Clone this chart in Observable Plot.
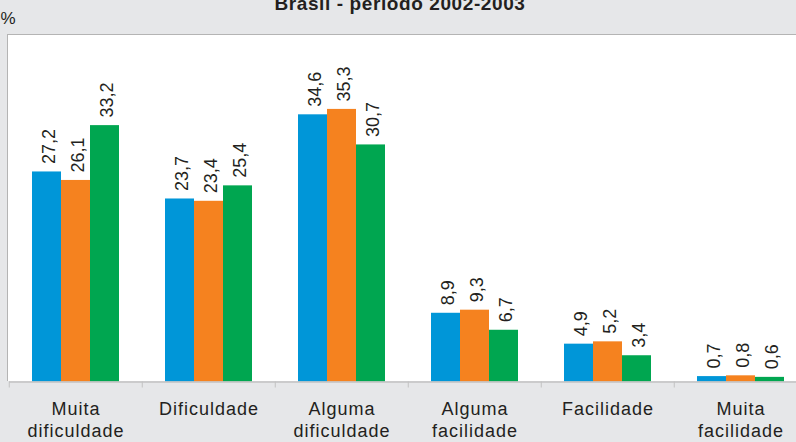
<!DOCTYPE html>
<html>
<head>
<meta charset="utf-8">
<script src="https://cdn.jsdelivr.net/npm/d3@7"></script>
<script src="https://cdn.jsdelivr.net/npm/@observablehq/plot@0.6"></script>
<style>
  html, body { margin: 0; padding: 0; background: #e6e7e9; overflow: hidden; }
  #wrap { position: relative; width: 796px; height: 442px; }
  #panel { position: absolute; left: 7px; top: 34px; width: 800px; height: 347px;
           background: #ffffff; border-top: 1px solid #b4b4b4; border-left: 1px solid #b4b4b4; box-sizing: border-box; }
  #chart { position: absolute; left: 0; top: 0; }
  #chart [aria-label="fx-axis tick label"] { letter-spacing: 1px; }
</style>
</head>
<body>
<div id="wrap"><div id="panel"></div><div id="chart"></div></div>
<script>
const title = "Brasil - período 2002-2003";
const unitLabel = "%";
const categories = ["Muita dificuldade", "Dificuldade", "Alguma dificuldade", "Alguma facilidade", "Facilidade", "Muita facilidade"];
const tickLabels = ["Muita\ndificuldade", "Dificuldade", "Alguma\ndificuldade", "Alguma\nfacilidade", "Facilidade", "Muita\nfacilidade"];
const series = ["Total", "Urbana", "Rural"];
const colors = ["#0096d8", "#f5821f", "#00a650"];
const totalValues  = [27.2, 23.7, 34.6, 8.9, 4.9, 0.7];
const urbanaValues = [26.1, 23.4, 35.3, 9.3, 5.2, 0.8];
const ruralValues  = [33.2, 25.4, 30.7, 6.7, 3.4, 0.6];

const valuesBySeries = [totalValues, urbanaValues, ruralValues];
const data = [];
categories.forEach((c, i) => series.forEach((s, j) => data.push({category: c, series: s, value: valuesBySeries[j][i]})));

const W = 796, H = 442, mL = 7, mR = -12, mT = 34, mB = 60.5;
const halfBand = (W - mL - mR) / categories.length / 2;
const fmt = v => v.toFixed(1).replace(".", ",");
const font = "'Liberation Sans', Arial, Helvetica, sans-serif";

const chart = Plot.plot({
  width: W, height: H,
  marginLeft: mL, marginRight: mR, marginTop: mT, marginBottom: mB,
  style: {background: "transparent", fontFamily: font, color: "#231f20"},
  fx: {domain: categories, padding: 0, label: null},
  x: {domain: series, paddingInner: 0, paddingOuter: 0.725, axis: null},
  y: {domain: [0, 45], axis: null},
  color: {domain: series, range: colors},
  marks: [
    Plot.barY(data, {fx: "category", x: "series", y: "value", fill: "series"}),
    Plot.ruleY([0], {stroke: "#c2c2c2", strokeWidth: 1.5}),
    Plot.text(data, {fx: "category", x: "series", y: "value", text: d => fmt(d.value),
      rotate: -90, textAnchor: "start", dy: -8, dx: 2, fontSize: 18, fill: "#231f20"}),
    Plot.axisFx({anchor: "bottom", tickSize: 6, tickFormat: () => "", dx: -halfBand, stroke: "#c2c2c2", label: null}),
    Plot.axisFx({anchor: "bottom", tickSize: 0, tickPadding: 17, label: null,
      tickFormat: d => tickLabels[categories.indexOf(d)], fontSize: 18, lineHeight: 1.25, fill: "#231f20"})
  ]
});
document.getElementById("chart").appendChild(chart);

const svg = d3.select(chart);
svg.append("text").attr("x", 400).attr("y", 9.5).attr("text-anchor", "middle")
  .attr("font-family", font).attr("font-size", 19).attr("font-weight", "bold")
  .attr("letter-spacing", "0.6px").attr("fill", "#231f20").text(title);
svg.append("text").attr("x", 8).attr("y", 24).attr("font-family", font)
  .attr("font-size", 17).attr("fill", "#231f20").text(unitLabel);
</script>
</body>
</html>
